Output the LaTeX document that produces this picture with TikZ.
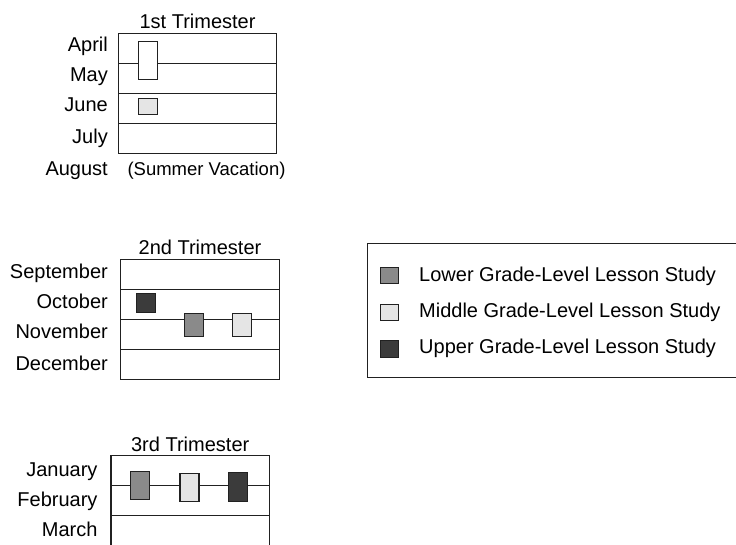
\documentclass[tikz,border=0pt]{standalone}
\usepackage{fontspec}
\setmainfont{Liberation Sans}
\usetikzlibrary{positioning}
\definecolor{lowergray}{gray}{0.54}
\definecolor{middlegray}{gray}{0.90}
\definecolor{uppergray}{gray}{0.23}
\definecolor{inkgray}{gray}{0.13}
\tikzset{
  frame/.style={draw=inkgray, line width=1.1pt},
  lesson/.style={rectangle, draw=inkgray, line width=1.1pt, fill=#1,
                 minimum width=19pt, inner sep=0pt},
  month/.style={anchor=base east, inner sep=0pt, font=\fontsize{20}{24}\selectfont},
  heading/.style={anchor=base, inner sep=0pt, font=\fontsize{20}{24}\selectfont},
  note/.style={anchor=base, inner sep=0pt, font=\fontsize{18.5}{22}\selectfont},
  swatch/.style={rectangle, draw=inkgray, line width=1pt, fill=#1,
                 minimum width=18pt, minimum height=16.5pt, inner sep=0pt},
  legtext/.style={anchor=base west, inner sep=0pt, font=\fontsize{20}{24}\selectfont},
}

\begin{document}
\begin{tikzpicture}[x=1pt, y=-1pt]
\useasboundingbox (0,0) rectangle (736,544);

% -------------------- 1st Trimester --------------------
\begin{scope}[shift={(118.3,33.3)}]
  \draw[frame] (0,0) rectangle (158.4,120);
  \foreach \r in {30,60,90} \draw[frame] (0,\r) -- (158.4,\r);
  \node[heading] (tri1) at (79.2,-5.3) {1st Trimester};
  \foreach \m/\y [count=\i] in {April/17.7, May/48.4, June/78.4, July/110, August/141.7}
    \node[month] (m1-\i) at (-10.3,\y) {\m};
  \node[note] (summer) at (88.2,141.7) {(Summer Vacation)};
  \node[lesson=white, minimum height=38.2pt] (aprmay) at (30,27.05) {};
  \node[lesson=middlegray, minimum height=15.6pt] (june) at (30,73.35) {};
\end{scope}

% -------------------- 2nd Trimester --------------------
\begin{scope}[shift={(120.7,259.3)}]
  \draw[frame] (0,0) rectangle (158.6,120);
  \foreach \r in {30,60,90} \draw[frame] (0,\r) -- (158.6,\r);
  \node[heading] (tri2) at (79.3,-5.3) {2nd Trimester};
  \foreach \m/\y [count=\i] in {September/18.7, October/49, November/79, December/110.7}
    \node[month] (m2-\i) at (-12.7,\y) {\m};
  \node[lesson=uppergray, minimum height=19pt] (oct) at (25.6,44) {};
  \node[lesson=lowergray, minimum height=23pt] (novlow) at (73.6,66) {};
  \node[lesson=middlegray, minimum height=23pt] (novmid) at (121.6,66) {};
\end{scope}

% -------------------- 3rd Trimester --------------------
\begin{scope}[shift={(111,455.7)}]
  \draw[frame] (0,0) rectangle (158.3,90);
  \foreach \r in {30,60} \draw[frame] (0,\r) -- (158.3,\r);
  \node[heading] (tri3) at (79.2,-4) {3rd Trimester};
  \foreach \m/\y [count=\i] in {January/21, February/50.3, March/81}
    \node[month] (m3-\i) at (-13.3,\y) {\m};
  \node[lesson=lowergray, minimum height=28pt] (janlow) at (29.4,29.5) {};
  \node[lesson=middlegray, minimum height=28.3pt] (janmid) at (78.5,31.6) {};
  \node[lesson=uppergray, minimum height=29pt] (janup) at (126.7,31.3) {};
\end{scope}

% -------------------- Legend --------------------
\draw[frame] (367.3,243.3) rectangle (740,377.3);
\node[swatch=lowergray] (swlow) at (389.7,275.3) {};
\node[swatch=middlegray, below=19.5pt of swlow] (swmid) {};
\node[swatch=uppergray, below=19pt of swmid] (swup) {};
\node[legtext] (leglow) at (419,281) {Lower Grade-Level Lesson Study};
\node[legtext] (legmid) at (419,317.6) {Middle Grade-Level Lesson Study};
\node[legtext] (legup) at (419,353.5) {Upper Grade-Level Lesson Study};

\end{tikzpicture}
\end{document}
